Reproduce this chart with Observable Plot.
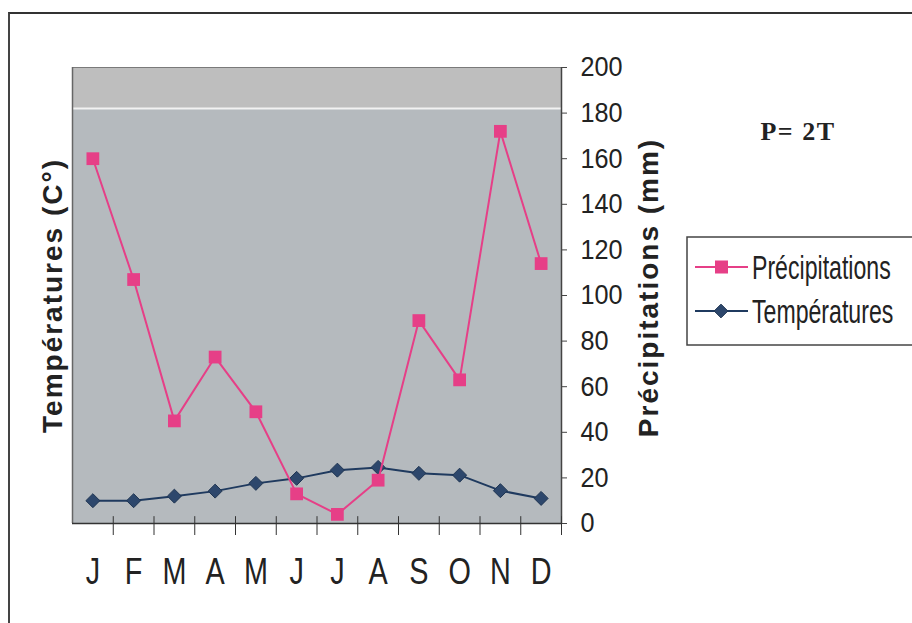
<!DOCTYPE html>
<html><head><meta charset="utf-8">
<script src="https://cdn.jsdelivr.net/npm/d3@7"></script>
<script src="https://cdn.jsdelivr.net/npm/@observablehq/plot@0.6"></script>
<style>
html,body{margin:0;padding:0;background:#fff;}
#wrap{position:relative;width:912px;height:623px;overflow:hidden;font-family:"Liberation Sans",Arial,sans-serif;}
#frame{position:absolute;left:8px;top:12px;width:960px;height:700px;border-top:2px solid #333;border-left:2px solid #444;}
#chart,#overlay{position:absolute;left:0;top:0;}
</style></head><body>
<div id="wrap"><div id="frame"></div><div id="chart"></div><svg id="overlay" width="912" height="623"></svg></div>
<script>
const months = ["J","F","M","A","M","J","J","A","S","O","N","D"];
const precipitation = [160, 107, 45, 73, 49, 13, 4, 19, 89, 63, 172, 114];
const temperature = [10, 10, 12, 14.2, 17.6, 19.8, 23.4, 24.6, 22, 21.2, 14.4, 11];
const yTicks = [0, 20, 40, 60, 80, 100, 120, 140, 160, 180, 200];
const seriesNames = ["Précipitations", "Températures"];
const leftTitle = "Températures (C°)";
const rightTitle = "Précipitations (mm)";
const note = "P= 2T";
const upperBand = [{y1: 182, y2: 200}];

const pink = "#e63f87";
const navy = "#2d476c";
const xDomain = [-0.5, months.length - 0.5];
const rows = months.map((m, i) => ({i, month: m, precipitation: precipitation[i], temperature: temperature[i]}));
const boundaries = months.map((_, i) => i + 0.5);

const plot = Plot.plot({
  width: 912, height: 623,
  marginLeft: 72, marginRight: 351, marginTop: 67, marginBottom: 100,
  style: {background: "transparent", fontFamily: "Liberation Sans, Arial, sans-serif", color: "#222"},
  x: {domain: xDomain, axis: null, label: null},
  y: {domain: [0, 200], axis: null, label: null},
  marks: [
    Plot.frame({fill: "#b5babe", stroke: null}),
    Plot.rect(upperBand, {y1: "y1", y2: "y2", fill: "#bebebe"}),
    Plot.ruleY([upperBand[0].y1], {stroke: "#f2f2f2", strokeWidth: 2}),
    Plot.ruleY([200], {stroke: "#7a7a7a"}),
    Plot.ruleX([xDomain[0]], {stroke: "#666", strokeWidth: 1.5}),
    Plot.ruleX([xDomain[1]], {stroke: "#444", strokeWidth: 1.5}),
    Plot.ruleY([0], {stroke: "#333", strokeWidth: 1.5}),
    Plot.ruleX(boundaries, {y1: 0, y2: 3, stroke: "#333"}),
    Plot.axisX(boundaries, {tickSize: 12, tickFormat: () => "", stroke: "#333", label: null}),
    Plot.axisX(d3.range(months.length), {tickSize: 0, tickPadding: 35, tickFormat: i => months[i], fontSize: 36, fill: "#222", label: null}),
    Plot.axisY(yTicks, {anchor: "right", tickSize: 5, tickPadding: 14, fontSize: 28, fill: "#222", stroke: "#444", label: null}),
    Plot.line(rows, {x: "i", y: "temperature", stroke: "#1f3a5f", strokeWidth: 2}),
    Plot.dot(rows, {x: "i", y: "temperature", symbol: "diamond2", r: 6.3, fill: navy, stroke: "#1f3552", strokeWidth: 1}),
    Plot.line(rows, {x: "i", y: "precipitation", stroke: pink, strokeWidth: 2}),
    Plot.dot(rows, {x: "i", y: "precipitation", symbol: "square", r: 7.2, fill: pink, stroke: null}),
    Plot.text([leftTitle], {frameAnchor: "left", textAnchor: "middle", dx: -19, rotate: -90, fontSize: 28, fontWeight: "bold", fill: "#222"}),
    Plot.text([rightTitle], {frameAnchor: "right", textAnchor: "middle", dx: 88, dy: -8, rotate: -90, fontSize: 28, fontWeight: "bold", fill: "#222"})
  ]
});
document.getElementById("chart").append(plot);

function condense(sel, f) {
  sel.each(function() {
    const L = this.getComputedTextLength();
    if (L > 0) {
      this.setAttribute("textLength", L * f);
      this.setAttribute("lengthAdjust", "spacingAndGlyphs");
    }
  });
}
condense(d3.select(plot).selectAll('g[aria-label="x-axis tick label"] text'), 0.8);
condense(d3.select(plot).selectAll('g[aria-label="y-axis tick label"] text'), 0.9);
d3.select(plot).selectAll('g[aria-label="text"] text').attr("letter-spacing", 2);

// legend and note
const ov = d3.select("#overlay");
ov.append("rect").attr("x", 687).attr("y", 237).attr("width", 240).attr("height", 108)
  .attr("fill", "#fff").attr("stroke", "#444").attr("stroke-width", 1.5);
const legendY = [267, 311];
seriesNames.forEach((name, k) => {
  const g = ov.append("g");
  g.append("line").attr("x1", 695).attr("x2", 748).attr("y1", legendY[k]).attr("y2", legendY[k])
    .attr("stroke", k === 0 ? pink : "#1f3a5f").attr("stroke-width", 2);
  if (k === 0) {
    g.append("rect").attr("x", 715).attr("y", legendY[k] - 6.5).attr("width", 13).attr("height", 13).attr("fill", pink);
  } else {
    g.append("path").attr("d", d3.symbol(d3.symbolDiamond2, 120)()).attr("transform", `translate(721,${legendY[k]})`)
      .attr("fill", navy).attr("stroke", "#1f3552");
  }
  g.append("g").attr("transform", `translate(752,${legendY[k]}) scale(0.68,1)`)
    .append("text").attr("dy", "0.36em")
    .attr("font-family", "Liberation Sans, Arial, sans-serif").attr("font-size", 34).attr("fill", "#222").text(name);
});
ov.append("text").attr("x", 798).attr("y", 140).attr("text-anchor", "middle")
  .attr("font-family", "Liberation Serif, Times New Roman, serif").attr("font-weight", "bold")
  .attr("font-size", 26).attr("letter-spacing", 1.5).attr("fill", "#222").text(note);
</script>
</body></html>
